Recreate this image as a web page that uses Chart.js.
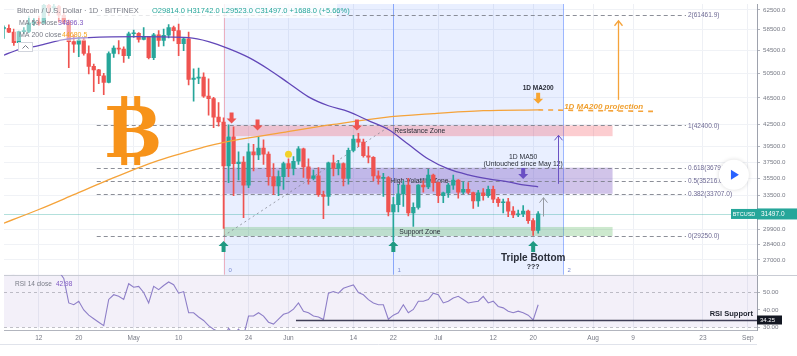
<!DOCTYPE html>
<html>
<head>
<meta charset="utf-8">
<script src="https://cdn.jsdelivr.net/npm/chart.js@4.4.1/dist/chart.umd.min.js"></script>
<style>
html,body{margin:0;padding:0;background:#ffffff;overflow:hidden;}
canvas{display:block;}
</style>
</head>
<body>
<canvas id="chart" width="797" height="356"></canvas>
<script>
// ---------------- DATA ----------------
// day index 0 = 2021-04-12 ; first candle = 2021-04-05 (day -7), last = 2021-07-21 (day 100)
const firstDayIndex = -7;
const opens = [58730,58750,58000,56000,58100,58150,59800,59900,59800,63500,
62900,63200,61400,60000,56200,55700,56500,54000,51700,51100,
50100,49000,54000,55000,54800,53600,57700,57800,56600,57200,
53250,57500,56400,57400,58900,58300,55800,56700,49500,49700,
49900,46800,46400,43600,42900,37000,40800,37300,37500,34700,
38800,38400,39300,38500,35700,34600,35700,37300,36700,37600,
39200,36900,35500,35800,33600,33400,37400,36700,37300,35500,
39000,40500,40100,38300,38100,35800,35500,35600,31700,32500,
33700,34700,31600,32200,34700,34500,35900,35000,33500,33800,
34700,35300,33900,34200,33850,32900,33800,33500,34200,33100,
32700,32800,31800,31400,31500,31800,30800,29814];
const highs = [59250,59450,58600,58200,58900,61200,60700,61200,63800,64900,
63800,63500,62500,60400,57500,57100,56800,55400,52100,51200,
50500,54300,55400,56400,55200,58000,58400,57900,58900,57200,
57800,58300,58600,59500,59200,59600,56900,58000,51300,51400,
50600,49600,46600,45800,43500,42500,42200,38800,38200,39900,
39800,40800,40400,38800,37300,36400,37500,37900,38200,39500,
39300,37900,36500,36800,34000,37500,38400,37700,37400,39300,
41000,41300,40500,39500,38200,36400,36100,35700,33300,34800,
35200,35500,32700,34750,35200,36600,36000,35050,33900,34900,
35900,35350,35100,35000,33900,34100,34300,34600,34600,33300,
33100,33200,32300,31900,32400,31900,31000,31742];
const lows = [56800,57900,55500,55800,57700,57900,59300,59400,59800,61300,
62100,60000,59600,51500,54200,53400,53700,50400,47500,48800,
47000,48900,53300,53900,52400,53100,57000,56100,56500,53000,
52900,55300,55400,56900,56300,53600,54500,48600,46000,48800,
46600,43900,42100,42300,30000,35000,33500,35300,31100,34400,
36400,37800,37200,34700,33600,33500,34200,35700,35900,37200,
35600,34800,35300,33400,31000,32400,35800,35900,34600,34800,
38800,39500,38100,37400,35200,34800,33400,31300,28800,31700,
32300,31300,30200,32000,33900,34300,34000,32700,32700,33300,
34200,33200,33700,33700,32100,32300,33000,33300,32700,32300,
31600,31200,31100,31200,31200,30500,29300,29523];
const closes = [58750,58000,56000,58100,58150,59800,59900,59800,63500,62900,
63200,61400,60000,56200,55700,56500,54000,51700,51100,50100,
49000,54000,55000,54800,53600,57700,57800,56600,57200,53250,
57500,56400,57400,58900,58300,55800,56700,49500,49700,49900,
46800,46400,43600,42900,37000,40800,37300,37500,34700,38800,
38400,39300,38500,35700,34600,35700,37300,36700,37600,39200,
36900,35500,35800,33600,33400,37400,36700,37300,35500,39000,
40500,40100,38300,38100,35800,35500,35600,31700,32500,33700,
34700,31600,32200,34700,34500,35900,35000,33500,33800,34700,
35300,33900,34200,33850,32900,33800,33500,34200,33100,32700,
32800,31800,31400,31500,31800,30800,29814,31497];
const rsiValues = [62,61,60.5,63,63,65,65.5,65,70,68,68.5,
62,58,44,43,45,40,37,35,33,31,
46,48.7,47.8,46,55,53,53.5,50,44,53.5,
51.6,54,56,54.4,49.6,50.5,38.4,38.4,36,34,
31,29,27.5,24,29.5,26,29,25,36.5,36.5,
38.4,36.5,33,31.9,34.7,37.5,38.4,40.5,44,39.3,
38.4,36.5,36,34.5,49.6,50.5,49.6,52.4,53.4,54.3,
50,48.7,45.9,44,43,43,34.7,37,38.4,43,
38.4,40.3,45,45,45.9,49.6,48.7,44,45,46.8,
47.8,46,44,44.5,45,47.8,44,45,42,41.2,
39.3,38.4,39.3,38.4,37,34.25,42.98];
// moving averages (day index, value)
const ma50Days = [-7,-4,0,5,10,20,30,34,38,42,46,50,54,58,62,66,70,74,78,82,86,90,94,97,100];
const ma50Vals = [53700,54700,55460,56580,56960,57150,56960,56210,54900,53300,51220,48900,46680,45300,44410,43100,41830,39810,37880,36640,35920,35430,35080,34730,34500];
const ma200Days = [-7,0,7,13,23,33,37,49,59,69,79,89,100];
const ma200Vals = [30530,31970,33600,35080,37500,39410,40070,41420,42540,43540,44120,44560,44680];
const ma200ProjDays = [100,123];
const ma200ProjVals = [44680,44450];
// axes
const xTickDays = [0,8,19,28,42,50,63,71,80,91,99,111,119,133,142];
const xTickLabels = ['12','20','May','10','24','Jun','14','22','Jul','12','20','Aug','9','23','Sep'];
const priceTicks = [62500,58500,54500,50500,46500,42500,39500,37500,35500,33500,29900,28400,27000];
const rsiTicks = [30,40,50];
const rsiLevels = [50,30];
// drawings
const fibRatios = ['0','0.382','0.5','0.618','1','2'];
const fibPrices = [29250,33707,35216,36794,42400,61461.9];
const fibStartDay = 11.6, fibEndDay = 129.6;
const fibTrendDays = [37,70.5];
const fibTrendPrices = [29250,42400];
const timeZoneDays = [37,71,105];
const timeZoneLabels = ['0','1','2'];
const zoneNames = ['Resistance Zone','High Volatility Zone','Support Zone'];
const zoneTops = [42400,36794,30150];
const zoneBottoms = [40900,33707,29250];
const zoneLabelDays = [71.2,70.4,72.2];
const zoneStartDay = 37, zoneEndDay = 114.9;
const redArrowDays = [38.6,43.8,63.7];
const redArrowTips = [42680,41700,41700];
const greenArrowDays = [37,71,99];
const greenArrowTip = 28750;
const markerDay = 50, markerPrice = 38500;
const lastPrice = 31497.0;
const rsiSupport = 34.25, rsiSupportStartDay = 51.5;

// ---------------- CHART ----------------
const FONT = '"Liberation Sans", Arial, sans-serif';
Chart.defaults.font.family = FONT;
const UP = '#26a69a', DOWN = '#ef5350';
const days = opens.map((_, i) => firstDayIndex + i);
const candleColor = c => closes[c.dataIndex] >= opens[c.dataIndex] ? UP : DOWN;

function txt(ctx, s, x, y, font, color, align, base) {
  ctx.font = font; ctx.fillStyle = color;
  ctx.textAlign = align || 'left'; ctx.textBaseline = base || 'middle';
  ctx.fillText(s, x, y);
}
function blockArrow(ctx, x, tipY, dir, color) {
  const hw = 5, sw = 2, hh = 5, total = 11;
  const base = tipY - dir * total;
  ctx.beginPath();
  ctx.moveTo(x, tipY);
  ctx.lineTo(x - hw, tipY - dir * hh);
  ctx.lineTo(x - sw, tipY - dir * hh);
  ctx.lineTo(x - sw, base);
  ctx.lineTo(x + sw, base);
  ctx.lineTo(x + sw, tipY - dir * hh);
  ctx.lineTo(x + hw, tipY - dir * hh);
  ctx.closePath();
  ctx.fillStyle = color; ctx.fill();
}
function thinArrow(ctx, x, y1, y2, color, w) {
  ctx.strokeStyle = color; ctx.lineWidth = w || 1; ctx.setLineDash([]);
  ctx.beginPath(); ctx.moveTo(x, y1); ctx.lineTo(x, y2); ctx.stroke();
  ctx.beginPath(); ctx.moveTo(x - 4, y2 + 5); ctx.lineTo(x, y2); ctx.lineTo(x + 4, y2 + 5); ctx.stroke();
}
function hline(ctx, x1, x2, y, color, dash, w) {
  ctx.strokeStyle = color; ctx.lineWidth = w || 1; ctx.setLineDash(dash || []);
  const yy = Math.round(y) + 0.5;
  ctx.beginPath(); ctx.moveTo(x1, yy); ctx.lineTo(x2, yy); ctx.stroke();
  ctx.setLineDash([]);
}

const rsiClip = {
  id: 'rsiClip',
  beforeDatasetDraw(chart, args) {
    if (args.meta.yAxisID !== 'rsi') return;
    const rs = chart.scales.rsi, ca = chart.chartArea;
    chart.ctx.save();
    chart.ctx.beginPath();
    chart.ctx.rect(ca.left, rs.top, ca.right - ca.left, rs.bottom - rs.top);
    chart.ctx.clip();
  },
  afterDatasetDraw(chart, args) {
    if (args.meta.yAxisID !== 'rsi') return;
    chart.ctx.restore();
  }
};

const under = {
  id: 'under',
  beforeDatasetsDraw(chart) {
    const ctx = chart.ctx, ca = chart.chartArea;
    const xs = chart.scales.x, ys = chart.scales.y, rs = chart.scales.rsi;
    const X = d => xs.getPixelForValue(d), Y = p => ys.getPixelForValue(p), R = v => rs.getPixelForValue(v);
    ctx.save();
    ctx.fillStyle = 'rgba(126,87,194,0.09)';
    ctx.fillRect(ca.left, rs.top, ca.right - ca.left, R(30) - rs.top);
    rsiLevels.forEach(v => hline(ctx, ca.left, ca.right, R(v), 'rgba(120,123,134,0.45)', [3, 3]));
    ctx.fillStyle = 'rgba(41,98,255,0.10)';
    ctx.fillRect(X(timeZoneDays[0]), ys.top, X(timeZoneDays[2]) - X(timeZoneDays[0]), ys.bottom - ys.top);
    timeZoneDays.forEach((d, i) => {
      const xx = Math.round(X(d)) + 0.5;
      ctx.strokeStyle = i === 0 ? 'rgba(242,54,69,0.35)' : 'rgba(41,98,255,0.45)';
      ctx.lineWidth = 1;
      ctx.beginPath(); ctx.moveTo(xx, ys.top); ctx.lineTo(xx, ys.bottom); ctx.stroke();
      txt(ctx, timeZoneLabels[i], xx + 4, ys.bottom - 4, '6px ' + FONT, '#7c8bd0');
    });
    const zoneFill = ['rgba(242,54,69,0.25)', 'rgba(103,58,183,0.30)', 'rgba(76,175,80,0.28)'];
    zoneNames.forEach((n, i) => {
      ctx.fillStyle = zoneFill[i];
      const yt = Y(zoneTops[i]), yb = Y(zoneBottoms[i]);
      ctx.fillRect(X(zoneStartDay), yt, X(zoneEndDay) - X(zoneStartDay), yb - yt);
      txt(ctx, n, X(zoneLabelDays[i]), (yt + yb) / 2 + 0.5, '6.8px ' + FONT, '#2a2e39');
    });
    fibPrices.forEach((p, i) => {
      hline(ctx, X(fibStartDay), X(fibEndDay), Y(p), 'rgba(120,123,134,0.85)', [4, 3]);
      txt(ctx, fibRatios[i] + '(' + p.toFixed(1) + ')', X(fibEndDay) + 2, Y(p) + 0.5, '6.5px ' + FONT, '#6e6a94');
    });
    ctx.strokeStyle = 'rgba(120,123,134,0.7)'; ctx.setLineDash([2, 3]); ctx.lineWidth = 1;
    ctx.beginPath(); ctx.moveTo(X(fibTrendDays[0]), Y(fibTrendPrices[0])); ctx.lineTo(X(fibTrendDays[1]), Y(fibTrendPrices[1])); ctx.stroke();
    ctx.setLineDash([]);
    hline(ctx, ca.left, ca.right, Y(lastPrice), 'rgba(38,166,154,0.35)');
    hline(ctx, ca.left, ca.right + 40, ys.bottom, '#c9ccd4');
    ctx.restore();
  },
  afterDatasetsDraw(chart) {
    const ctx = chart.ctx, ca = chart.chartArea;
    const xs = chart.scales.x, ys = chart.scales.y, rs = chart.scales.rsi;
    const X = d => xs.getPixelForValue(d), Y = p => ys.getPixelForValue(p), R = v => rs.getPixelForValue(v);
    ctx.save();
    ctx.strokeStyle = '#f5a33a'; ctx.lineWidth = 1.6; ctx.setLineDash([5, 5]);
    ctx.beginPath(); ctx.moveTo(X(ma200ProjDays[0]), Y(ma200ProjVals[0])); ctx.lineTo(X(ma200ProjDays[1]), Y(ma200ProjVals[1])); ctx.stroke();
    ctx.setLineDash([]);
    txt(ctx, '1D MA200 projection', X(105.2), Y(45150), 'italic bold 8px ' + FONT, '#f0a030');
    redArrowDays.forEach((d, i) => blockArrow(ctx, X(d), Y(redArrowTips[i]), 1, '#ef5350'));
    greenArrowDays.forEach(d => blockArrow(ctx, X(d), Y(greenArrowTip), -1, '#1f9a82'));
    const ax = X(100), ay = Y(45600);
    blockArrow(ctx, ax, ay, 1, '#f7a531');
    txt(ctx, '1D MA200', ax, ay - 16, 'bold 6.5px ' + FONT, '#2a2e39', 'center');
    const px = X(97), py = Y(35430);
    blockArrow(ctx, px, py, 1, '#6a4fc4');
    txt(ctx, '1D MA50', px, py - 22, '6.8px ' + FONT, '#2a2e39', 'center');
    txt(ctx, '(Untouched since May 12)', px, py - 15, '6.8px ' + FONT, '#2a2e39', 'center');
    thinArrow(ctx, Math.round(X(116)) + 0.5, Y(46210), Y(60270), '#f5a33a', 1.3);
    thinArrow(ctx, Math.round(X(104)) + 0.5, Y(34850), Y(41020), '#6b52c4', 1);
    thinArrow(ctx, Math.round(X(101)) + 0.5, Y(31230), Y(33270), '#9598a1', 1);
    txt(ctx, 'Triple Bottom', X(99), Y(greenArrowTip) + 17, 'bold 10px ' + FONT, '#2a2e39', 'center');
    txt(ctx, '???', X(99), Y(greenArrowTip) + 26, 'bold 7px ' + FONT, '#2a2e39', 'center');
    const bx = X(18.9), by = Y(38130);
    ctx.fillStyle = '#f7931a';
    ctx.font = 'bold 69px "DejaVu Serif"'; ctx.textAlign = 'center'; ctx.textBaseline = 'alphabetic';
    ctx.fillText('B', bx, by);
    ctx.fillRect(bx - 12, by - 61, 6, 12); ctx.fillRect(bx + 1, by - 61, 6, 12);
    ctx.fillRect(bx - 12, by - 2, 6, 10); ctx.fillRect(bx + 1, by - 2, 6, 10);
    hline(ctx, X(rsiSupportStartDay), ca.right, R(rsiSupport), '#3f3d56', [], 1.5);
    txt(ctx, 'RSI Support', ca.right - 4, R(rsiSupport) - 2, 'bold 7.5px ' + FONT, '#1e222d', 'right', 'bottom');
    ctx.fillStyle = '#131722'; ctx.fillRect(ca.right, R(rsiSupport) - 4.5, 25, 9);
    txt(ctx, rsiSupport.toFixed(2), ca.right + 3, R(rsiSupport) + 0.5, '6px ' + FONT, '#ffffff');
    const ly = Y(lastPrice);
    ctx.fillStyle = UP; ctx.fillRect(ca.right, ly - 5.5, 40, 11);
    txt(ctx, lastPrice.toFixed(1), ca.right + 4, ly + 0.5, '6.5px ' + FONT, '#ffffff');
    ctx.fillStyle = UP; ctx.fillRect(ca.right - 26, ly - 5, 26, 10);
    txt(ctx, 'BTCUSD', ca.right - 13, ly + 0.5, '5.5px ' + FONT, '#ffffff', 'center');
    const cx = X(139.2), cy = Y(35920);
    ctx.beginPath(); ctx.arc(cx, cy, 15, 0, Math.PI * 2);
    ctx.fillStyle = '#ffffff'; ctx.shadowColor = 'rgba(0,0,0,0.15)'; ctx.shadowBlur = 4; ctx.fill();
    ctx.shadowBlur = 0; ctx.shadowColor = 'transparent';
    ctx.beginPath(); ctx.moveTo(cx - 3, cy - 5); ctx.lineTo(cx + 5, cy); ctx.lineTo(cx - 3, cy + 5); ctx.closePath();
    ctx.fillStyle = '#2962ff'; ctx.fill();
    ctx.fillStyle = 'rgba(255,255,255,0.8)'; ctx.fillRect(14, 4, 323, 14);
    txt(ctx, 'Bitcoin / U.S. Dollar · 1D · BITFINEX', 17, 11, '7.5px ' + FONT, '#787b86');
    txt(ctx, 'O29814.0 H31742.0 L29523.0 C31497.0 +1688.0 (+5.66%)', 152, 11, '7.5px ' + FONT, UP);
    ctx.fillStyle = 'rgba(255,255,255,0.45)'; ctx.fillRect(14, 18, 74, 23);
    txt(ctx, 'MA 50 close', 19, 23, '7px ' + FONT, '#787b86');
    txt(ctx, '34896.3', 58, 23, '7px ' + FONT, '#7e57c2');
    txt(ctx, 'MA 200 close', 19, 35, '7px ' + FONT, '#787b86');
    txt(ctx, '44680.5', 62, 35, '7px ' + FONT, '#f5a623');
    ctx.strokeStyle = '#d1d4dc'; ctx.lineWidth = 1; ctx.fillStyle = '#ffffff';
    ctx.fillRect(18.5, 42.5, 14, 9); ctx.strokeRect(18.5, 42.5, 14, 9);
    ctx.strokeStyle = '#787b86'; ctx.beginPath(); ctx.moveTo(22.5, 48.5); ctx.lineTo(25.5, 45.5); ctx.lineTo(28.5, 48.5); ctx.stroke();
    txt(ctx, 'RSI 14 close', 15, rs.top + 10, '6.5px ' + FONT, '#787b86');
    txt(ctx, rsiValues[rsiValues.length - 1].toFixed(2), 56, rs.top + 10, '6.5px ' + FONT, '#7e57c2');
    hline(ctx, 0, ca.right, xs.top + 14, '#e0e3eb');
    ctx.restore();
  }
};

const chart = new Chart(document.getElementById('chart'), {
  type: 'bar',
  data: {
    datasets: [
      { type: 'line', label: 'MA 50', data: ma50Days.map((d, i) => ({x: d, y: ma50Vals[i]})), yAxisID: 'y',
        borderColor: '#6247b8', borderWidth: 1.3, pointRadius: 0, cubicInterpolationMode: 'monotone', order: 1 },
      { type: 'line', label: 'MA 200', data: ma200Days.map((d, i) => ({x: d, y: ma200Vals[i]})), yAxisID: 'y',
        borderColor: '#f5a33a', borderWidth: 1.3, pointRadius: 0, cubicInterpolationMode: 'monotone', order: 2 },
      { type: 'line', label: 'marker', data: [{x: markerDay, y: markerPrice}], yAxisID: 'y', showLine: false,
        pointRadius: 3.5, pointBackgroundColor: '#f3d22a', pointBorderWidth: 0, order: 0 },
      { type: 'bar', label: 'wicks', data: days.map((d, i) => ({x: d, y: [lows[i], highs[i]]})), yAxisID: 'y',
        backgroundColor: candleColor, barThickness: 1, grouped: false, borderWidth: 0, order: 4 },
      { type: 'bar', label: 'bodies', data: days.map((d, i) => ({x: d, y: [opens[i], closes[i]]})), yAxisID: 'y',
        backgroundColor: candleColor, barThickness: 3.6, grouped: false, borderWidth: 0, minBarLength: 1, order: 3 },
      { type: 'line', label: 'RSI 14', data: days.map((d, i) => ({x: d, y: rsiValues[i]})), yAxisID: 'rsi',
        borderColor: '#8e7fc8', borderWidth: 1.1, pointRadius: 0, tension: 0, order: 5 }
    ]
  },
  options: {
    responsive: false, animation: false, devicePixelRatio: 1,
    layout: { padding: 0 },
    plugins: { legend: { display: false }, tooltip: { enabled: false } },
    scales: {
      x: {
        type: 'linear', position: 'bottom', min: -35 / 5.02, max: 722 / 5.02, offset: false,
        grid: { color: '#eef0f5', offset: false, drawTicks: false },
        border: { color: '#b2b5be' },
        afterBuildTicks: s => { s.ticks = xTickDays.map(v => ({value: v})); },
        ticks: { autoSkip: false, maxRotation: 0, padding: 4, color: '#787b86', font: { size: 6.5 },
          callback: v => { const i = xTickDays.indexOf(v); return i >= 0 ? xTickLabels[i] : ''; } },
        afterFit: s => { s.height = 26; s.paddingLeft = 0; s.paddingRight = 0; }
      },
      y: {
        type: 'logarithmic', position: 'right', stack: 'panes', stackWeight: 274,
        min: 25685, max: 63760, bounds: 'data', beginAtZero: false,
        grid: { color: '#f0f2f6', tickLength: 3, tickColor: '#b2b5be' },
        border: { color: '#9ea2ad' },
        afterBuildTicks: s => { s.ticks = priceTicks.map(v => ({value: v})); },
        ticks: { autoSkip: false, padding: 3, color: '#787b86', font: { size: 6.2 }, callback: v => Number(v).toFixed(1) },
        afterFit: s => { s.width = 40; s.paddingTop = 0; s.paddingBottom = 0; }
      },
      rsi: {
        type: 'linear', position: 'right', stack: 'panes', stackWeight: 56,
        min: 28.53, max: 60.17, beginAtZero: false,
        grid: { drawOnChartArea: false, tickLength: 3, tickColor: '#b2b5be' },
        border: { color: '#9ea2ad' },
        afterBuildTicks: s => { s.ticks = rsiTicks.map(v => ({value: v})); },
        ticks: { autoSkip: false, padding: 3, color: '#787b86', font: { size: 6.2 }, callback: v => Number(v).toFixed(2) },
        afterFit: s => { s.width = 40; s.paddingTop = 0; s.paddingBottom = 0; }
      }
    }
  },
  plugins: [rsiClip, under]
});
</script>
</body>
</html>
